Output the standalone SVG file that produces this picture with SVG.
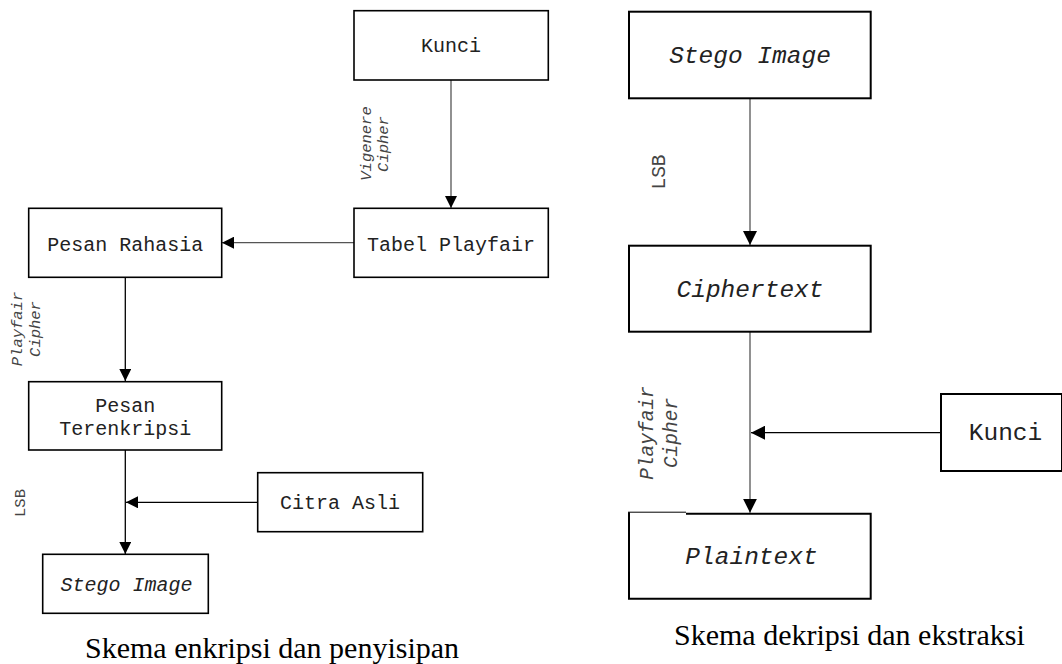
<svg xmlns="http://www.w3.org/2000/svg" width="1062" height="664" viewBox="0 0 1062 664">
<style>
.box{fill:#fff;stroke:#000;stroke-width:1.6}
.bx2{fill:#fff;stroke:#000;stroke-width:2}
.t{font-family:"Liberation Mono","Courier New",monospace;font-size:20px;fill:#222;text-anchor:middle}
.t2{font-family:"Liberation Mono","Courier New",monospace;font-size:24.5px;fill:#222;text-anchor:middle}
.i{font-style:italic}
.lab{font-family:"Liberation Mono","Courier New",monospace;font-size:15.5px;fill:#444;text-anchor:middle}
.lab2{font-family:"Liberation Mono","Courier New",monospace;font-size:19.5px;fill:#444;text-anchor:middle}
.cap{font-family:"Liberation Serif","Times New Roman",serif;font-size:30px;fill:#000}
.ln{fill:none;stroke:#555;stroke-width:1.3}
.lk{fill:none;stroke:#000;stroke-width:1.3}
</style>
<defs>
<marker id="a1" markerUnits="userSpaceOnUse" markerWidth="12" markerHeight="12" viewBox="0 0 10 10" refX="10" refY="5" orient="auto"><path d="M0,0 L10,5 L0,10 Z" fill="#000"/></marker>
<marker id="a2" markerUnits="userSpaceOnUse" markerWidth="14" markerHeight="14" viewBox="0 0 10 10" refX="10" refY="5" orient="auto"><path d="M0,0 L10,5 L0,10 Z" fill="#000"/></marker>
</defs>
<g id="connectors">
<line class="ln" x1="451" y1="80" x2="451" y2="208" marker-end="url(#a1)"/>
<line class="ln" x1="354" y1="242.7" x2="222" y2="242.7" marker-end="url(#a1)"/>
<line class="lk" x1="125.3" y1="277" x2="125.3" y2="381" marker-end="url(#a1)"/>
<line class="lk" x1="125.3" y1="450" x2="125.3" y2="554" marker-end="url(#a1)"/>
<line class="lk" x1="257.7" y1="502.3" x2="126" y2="502.3" marker-end="url(#a1)"/>
<line class="ln" x1="750" y1="98.3" x2="750" y2="245" marker-end="url(#a2)"/>
<line class="ln" x1="750" y1="332" x2="750" y2="512.7" marker-end="url(#a2)"/>
<line class="lk" x1="941" y1="432.7" x2="751" y2="432.7" marker-end="url(#a2)"/>
</g>
<g id="labels">
<text class="lab i" transform="translate(371,143.5) rotate(-90)">Vigenere</text>
<text class="lab i" transform="translate(388,144) rotate(-90)">Cipher</text>
<text class="lab i" transform="translate(21.5,329) rotate(-90)">Playfair</text>
<text class="lab i" transform="translate(40,329) rotate(-90)">Cipher</text>
<text class="lab" transform="translate(25,503) rotate(-90)">LSB</text>
<text class="lab2" transform="translate(665,172) rotate(-90)">LSB</text>
<text class="lab2 i" transform="translate(653,433) rotate(-90)">Playfair</text>
<text class="lab2 i" transform="translate(677,433) rotate(-90)">Cipher</text>
</g>
<g id="kunci1"><rect class="box" x="354" y="10.7" width="194.3" height="69.3"/><text class="t" x="451" y="52">Kunci</text></g>
<g id="tabel"><rect class="box" x="354" y="208.3" width="194.3" height="69"/><text class="t" x="451" y="250.5">Tabel Playfair</text></g>
<g id="pesan"><rect class="box" x="28.7" y="208.3" width="193" height="69"/><text class="t" x="125.3" y="250.5">Pesan Rahasia</text></g>
<g id="terenkripsi"><rect class="box" x="28.7" y="381.7" width="193" height="68.3"/><text class="t" x="125.3" y="411.7">Pesan</text><text class="t" x="125.3" y="435">Terenkripsi</text></g>
<g id="citra"><rect class="box" x="257.7" y="472.7" width="165" height="59"/><text class="t" x="340" y="509">Citra Asli</text></g>
<g id="stego1"><rect class="box" x="42.7" y="554.3" width="165.6" height="59"/><text class="t i" x="126.5" y="591">Stego Image</text></g>
<g id="stego2"><rect class="bx2" x="629" y="11.7" width="241.7" height="86.6"/><text class="t2 i" x="750" y="63">Stego Image</text></g>
<g id="cipher"><rect class="bx2" x="629" y="245.7" width="241.7" height="86"/><text class="t2 i" x="750" y="297">Ciphertext</text></g>
<g id="kunci2"><rect class="bx2" x="941" y="394" width="121" height="77"/><text class="t2" x="1005.5" y="440">Kunci</text></g>
<g id="plain"><path class="bx2" d="M686,513.7 L870.7,513.7 L870.7,598.7 L629,598.7 L629,512.2"/><line x1="628" y1="512.2" x2="686" y2="512.2" stroke="#000" stroke-width="1"/><text class="t2 i" x="751.5" y="564">Plaintext</text></g>
<g id="captions">
<text class="cap" x="85" y="658">Skema enkripsi dan penyisipan</text>
<text class="cap" x="674" y="645">Skema dekripsi dan ekstraksi</text>
</g>
</svg>
